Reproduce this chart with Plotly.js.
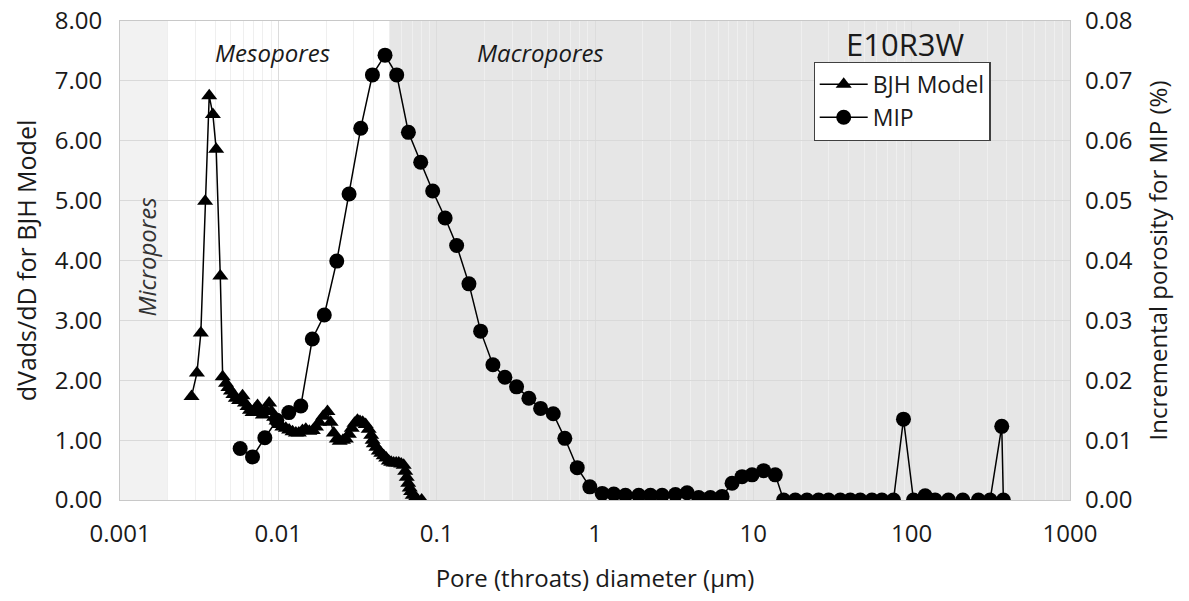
<!DOCTYPE html>
<html>
<head>
<meta charset="utf-8">
<script src="https://cdn.plot.ly/plotly-3.0.1.min.js"></script>
<style>html,body{margin:0;padding:0;background:#fff;}#chart{width:1189px;height:601px;}</style>
</head>
<body>
<div id="chart"></div>
<script>
// Pore (throats) diameter in µm
const bjhDiameter = [0.00283,0.00306,0.00324,0.00345,0.00366,0.00386,0.00405,0.00430,0.00445,0.00467,
  0.00484,0.00502,0.00520,0.00539,0.00565,0.00594,0.00615,0.00639,0.00662,0.00687,
  0.00712,0.00739,0.00768,0.00798,0.00835,0.00875,0.00905,0.00941,0.00975,0.01012,
  0.01060,0.01115,0.01170,0.01229,0.01290,0.01347,0.01420,0.01491,0.01570,0.01651,
  0.01730,0.01809,0.01920,0.02044,0.0214,0.0224,0.0234,0.0244,0.0256,0.0267,
  0.0279,0.0291,0.0303,0.0316,0.0328,0.0341,0.0356,0.0372,0.0386,0.0394,
  0.0401,0.0416,0.0431,0.0447,0.0463,0.0480,0.0498,0.0516,0.0535,0.0555,
  0.0576,0.0597,0.0619,0.0633,0.0647,0.0661,0.0676,0.0690,0.0706,0.0730,
  0.0755,0.0804];
const bjhValue = [1.73,2.12,2.79,4.99,6.75,6.44,5.86,3.74,2.06,1.95,
  1.88,1.82,1.76,1.70,1.66,1.74,1.62,1.56,1.50,1.46,
  1.52,1.58,1.48,1.42,1.50,1.62,1.48,1.38,1.32,1.26,
  1.22,1.20,1.17,1.14,1.12,1.12,1.16,1.18,1.15,1.16,
  1.22,1.30,1.40,1.48,1.30,1.12,1.02,0.98,1.00,1.02,
  1.10,1.20,1.28,1.33,1.31,1.30,1.26,1.18,1.08,1.00,
  0.94,0.88,0.82,0.78,0.74,0.70,0.65,0.63,0.62,0.62,
  0.62,0.60,0.58,0.48,0.38,0.28,0.20,0.14,0.08,0.03,
  0.01,0.00];

const mipDiameter = [0.00574,0.00687,0.00822,0.00978,0.01165,0.01387,0.01639,0.01951,0.02339,0.02797,
  0.03316,0.03929,0.04719,0.05593,0.06630,0.07928,0.09436,0.1131,0.1337,0.1599,
  0.1895,0.2266,0.2698,0.3197,0.3822,0.4532,0.5449,0.6448,0.7722,0.9274,
  1.110,1.314,1.557,1.889,2.239,2.655,3.220,3.817,4.517,5.355,
  6.346,7.338,8.486,9.813,11.61,13.76,15.53,18.41,21.82,25.83,
  29.87,35.39,40.93,47.33,56.09,64.86,76.78,88.79,102.7,121.7,
  140.7,170.7,210.4,264.0,312.8,370.7,379.4];
const mipValue = [0.0086,0.0072,0.0104,0.0133,0.0146,0.0157,0.0269,0.0309,0.0399,0.0511,
  0.0621,0.0710,0.0743,0.0710,0.0614,0.0564,0.0516,0.0471,0.0425,0.0361,
  0.0282,0.0226,0.0205,0.0189,0.0170,0.0153,0.0144,0.0103,0.0054,0.0022,
  0.0011,0.0010,0.0008,0.0008,0.0008,0.0008,0.0009,0.0012,0.0004,0.0004,
  0.0006,0.0028,0.0039,0.0042,0.0049,0.0042,0.0000,0.0000,0.0000,0.0000,
  0.0000,0.0000,0.0000,0.0000,0.0000,0.0000,0.0000,0.0135,0.0000,0.0007,
  0.0000,0.0000,0.0000,0.0000,0.0000,0.0123,0.0000];

const xTickVals = [0.001,0.01,0.1,1,10,100,1000];
const xTickText = ["0.001","0.01","0.1","1","10","100","1000"];
const yLeftTicks = [0,1,2,3,4,5,6,7,8];
const yRightTicks = [0,0.01,0.02,0.03,0.04,0.05,0.06,0.07,0.08];

// pore class boundaries (µm)
const microRange = [0.001, 0.002];
const macroRange = [0.05, 1000];

const FONT = '"Open Sans", "Noto Sans", sans-serif';
const FS = 24;

const traces = [
  {
    x: bjhDiameter, y: bjhValue, name: 'BJH Model', type: 'scatter', mode: 'lines+markers',
    line: {color: '#000', width: 1.5},
    marker: {symbol: 'triangle-up', size: 14, color: '#000'},
    yaxis: 'y'
  },
  {
    x: mipDiameter, y: mipValue, name: 'MIP', type: 'scatter', mode: 'lines+markers',
    line: {color: '#000', width: 1.5},
    marker: {symbol: 'circle', size: 15, color: '#000'},
    yaxis: 'y2'
  }
];

const layout = {
  width: 1189, height: 601,
  margin: {l: 120, r: 119, t: 21, b: 101},
  paper_bgcolor: '#fff', plot_bgcolor: '#fff',
  font: {family: FONT, size: FS, color: '#1a1a1a'},
  showlegend: true,
  legend: {
    x: 0.73, y: 0.915, xanchor: 'left', yanchor: 'top',
    bgcolor: '#fff', bordercolor: '#404040', borderwidth: 1.2,
    font: {family: FONT, size: 23, color: '#1a1a1a'},
    tracegroupgap: 0, itemwidth: 48
  },
  xaxis: {
    type: 'log', range: [-3, 3],
    tickvals: xTickVals, ticktext: xTickText,
    ticks: '', ticklabelstandoff: 12,
    tickfont: {size: FS},
    showgrid: true, gridcolor: '#dcdcdc', gridwidth: 1,
    minor: {showgrid: true, gridcolor: '#efefef', gridwidth: 1, dtick: 'D1'},
    showline: true, mirror: true, linecolor: '#c8c8c8', linewidth: 1,
    zeroline: false,
    title: {text: 'Pore (throats) diameter (µm)', font: {size: FS}, standoff: 22}
  },
  yaxis: {
    range: [0, 8], tickvals: yLeftTicks, tickformat: '.2f',
    ticks: '', ticklabelstandoff: 12,
    tickfont: {size: FS},
    showgrid: true, gridcolor: '#d9d9d9', gridwidth: 1,
    showline: true, mirror: true, linecolor: '#c8c8c8', linewidth: 1,
    zeroline: false,
    title: {text: 'dVads/dD for BJH Model', font: {size: 25}, standoff: 10}
  },
  yaxis2: {
    overlaying: 'y', side: 'right',
    range: [0, 0.08], tickvals: yRightTicks, tickformat: '.2f',
    ticks: '', ticklabelstandoff: 14,
    tickfont: {size: FS},
    showgrid: false, zeroline: false, showline: false,
    title: {text: 'Incremental porosity for MIP (%)', font: {size: FS}, standoff: 18}
  },
  shapes: [
    {type: 'rect', xref: 'x', yref: 'paper', x0: microRange[0], x1: microRange[1], y0: 0, y1: 1,
     fillcolor: '#f2f2f2', line: {width: 0}, layer: 'below'},
    {type: 'rect', xref: 'x', yref: 'paper', x0: macroRange[0], x1: macroRange[1], y0: 0, y1: 1,
     fillcolor: '#e6e6e6', line: {width: 0}, layer: 'below'}
  ],
  annotations: [
    {text: '<i>Micropores</i>', xref: 'x', yref: 'y', x: Math.log10(0.00146), y: 4.05, showarrow: false,
     textangle: -90, font: {family: FONT, size: 24, color: '#333'}},
    {text: '<i>Mesopores</i>', xref: 'x', yref: 'y', x: Math.log10(0.0092), y: 7.48, showarrow: false,
     font: {family: FONT, size: 24, color: '#1a1a1a'}},
    {text: '<i>Macropores</i>', xref: 'x', yref: 'y', x: Math.log10(0.453), y: 7.48, showarrow: false,
     font: {family: FONT, size: 24, color: '#1a1a1a'}},
    {text: 'E10R3W', xref: 'x', yref: 'y', x: Math.log10(92), y: 7.62, showarrow: false,
     font: {family: FONT, size: 31, color: '#1a1a1a'}}
  ]
};

Plotly.newPlot('chart', traces, layout, {displayModeBar: false, staticPlot: true});
</script>
</body>
</html>
